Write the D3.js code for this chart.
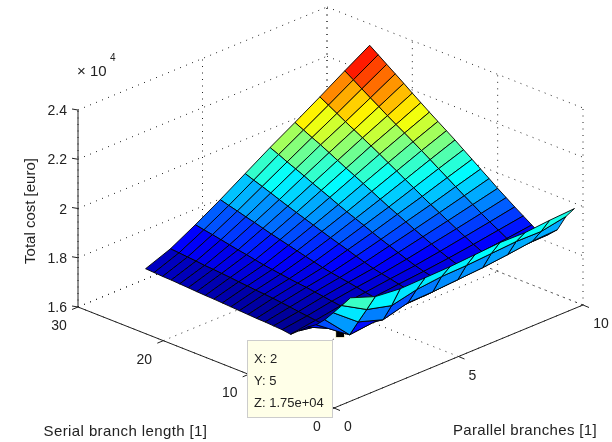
<!DOCTYPE html>
<html>
<head>
<meta charset="utf-8">
<script src="https://d3js.org/d3.v7.min.js"></script>
<style>
html, body { margin: 0; padding: 0; background: #fff; }
svg { display: block; filter: blur(0.3px); }
text { font-family: "Liberation Sans", sans-serif; font-size: 14px; fill: #222; }
</style>
</head>
<body>
<svg id="chart" width="612" height="442"></svg>
<script>
//Data
var parallelBranches = [1, 2, 3, 4, 5, 6, 7, 8, 9, 10];
var serialLength = [1, 2, 3, 4, 5, 6, 7, 8, 9, 10, 11, 12, 13, 14, 15, 16, 17, 18, 19, 20, 21, 22, 23, 24, 25];

//total cost [euro x 10^4], one list per parallel branch count, serial length 1..25
var costP1 = [1.992, 1.947, 1.904, 1.862, 1.828, 1.805, 1.776, 1.748, 1.753, 1.755, 1.757, 1.758, 1.760, 1.762, 1.764, 1.766, 1.768, 1.769, 1.771, 1.773, 1.775, 1.777, 1.778, 1.780, 1.782];
var costP2 = [1.955, 1.889, 1.825, 1.759, 1.755, 1.756, 1.759, 1.763, 1.767, 1.771, 1.776, 1.780, 1.784, 1.787, 1.790, 1.793, 1.796, 1.800, 1.803, 1.806, 1.808, 1.812, 1.815, 1.818, 1.821];
var costP3 = [1.945, 1.863, 1.792, 1.770, 1.761, 1.767, 1.773, 1.780, 1.785, 1.790, 1.795, 1.800, 1.804, 1.808, 1.813, 1.818, 1.823, 1.830, 1.837, 1.843, 1.850, 1.857, 1.864, 1.870, 1.877];
var costP4 = [1.948, 1.886, 1.819, 1.788, 1.771, 1.780, 1.787, 1.793, 1.800, 1.806, 1.812, 1.818, 1.825, 1.834, 1.843, 1.852, 1.861, 1.870, 1.879, 1.889, 1.899, 1.908, 1.918, 1.927, 1.937];
var costP5 = [1.951, 1.897, 1.822, 1.792, 1.782, 1.790, 1.798, 1.806, 1.813, 1.821, 1.832, 1.843, 1.855, 1.866, 1.877, 1.889, 1.901, 1.913, 1.925, 1.937, 1.950, 1.963, 1.976, 1.988, 2.001];
var costP6 = [1.958, 1.900, 1.829, 1.800, 1.792, 1.800, 1.808, 1.818, 1.830, 1.843, 1.857, 1.870, 1.884, 1.899, 1.913, 1.927, 1.942, 1.958, 1.973, 1.988, 2.004, 2.019, 2.034, 2.050, 2.065];
var costP7 = [1.965, 1.907, 1.836, 1.810, 1.798, 1.808, 1.820, 1.834, 1.850, 1.866, 1.882, 1.899, 1.916, 1.932, 1.950, 1.968, 1.986, 2.004, 2.021, 2.039, 2.057, 2.075, 2.091, 2.108, 2.125];
var costP8 = [1.963, 1.914, 1.847, 1.820, 1.806, 1.818, 1.834, 1.852, 1.870, 1.889, 1.908, 1.927, 1.947, 1.968, 1.988, 2.009, 2.029, 2.050, 2.070, 2.089, 2.108, 2.127, 2.147, 2.167, 2.187];
var costP9 = [1.972, 1.913, 1.860, 1.830, 1.813, 1.830, 1.850, 1.870, 1.891, 1.913, 1.935, 1.958, 1.981, 2.004, 2.027, 2.050, 2.072, 2.094, 2.115, 2.137, 2.160, 2.182, 2.205, 2.228, 2.251];
var costP10 = [1.978, 1.932, 1.865, 1.832, 1.821, 1.843, 1.866, 1.889, 1.913, 1.937, 1.963, 1.988, 2.014, 2.039, 2.065, 2.089, 2.113, 2.137, 2.162, 2.187, 2.213, 2.238, 2.263, 2.288, 2.313];
var totalCost = [costP1, costP2, costP3, costP4, costP5, costP6, costP7, costP8, costP9, costP10];

var xTicks = [0, 5, 10];
var yTicks = [0, 10, 20, 30];
var zTicks = [1.6, 1.8, 2, 2.2, 2.4];
var tipPoint = { x: 2, y: 5, z: 1.75 };
var tipLines = ["X: 2", "Y: 5", "Z: 1.75e+04"];

var svg = d3.select("#chart");

//oblique 3d axes, each data axis adds its own screen offset
var xToScreenX = d3.scaleLinear().domain([0, 10]).range([0, 249]),
    xToScreenY = d3.scaleLinear().domain([0, 10]).range([0, -103]),
    yToScreenX = d3.scaleLinear().domain([0, 30]).range([0, -256]),
    yToScreenY = d3.scaleLinear().domain([0, 30]).range([0, -101]),
    zToScreenY = d3.scaleLinear().domain([1.6, 2.4]).range([0, -197]);
var originX = 334, originY = 408;

function project(x, y, z) {
    return [
        originX + xToScreenX(x) + yToScreenX(y),
        originY + xToScreenY(x) + yToScreenY(y) + zToScreenY(z)
    ];
}

//jet colormap
var jet = d3.scaleLinear()
    .domain([0, 0.125, 0.375, 0.625, 0.875, 1])
    .range(["#000090", "#0000ff", "#00ffff", "#ffff00", "#ff0000", "#800000"]);
var allCosts = d3.merge(totalCost);
var colorNorm = d3.scaleLinear().domain(d3.extent(allCosts)).range([0, 1]);

var line3d = d3.line();

function addSegment(g, a, b) {
    g.append("path").attr("d", line3d([a, b]));
}

//grid on floor and two back walls
var grid = svg.append("g")
    .attr("fill", "none")
    .attr("stroke", "#222")
    .attr("stroke-width", 1)
    .attr("stroke-dasharray", "1 5.5");

xTicks.forEach(function (x) {
    addSegment(grid, project(x, 0, 1.6), project(x, 30, 1.6));
    addSegment(grid, project(x, 30, 1.6), project(x, 30, 2.4));
});
yTicks.forEach(function (y) {
    addSegment(grid, project(0, y, 1.6), project(10, y, 1.6));
    addSegment(grid, project(10, y, 1.6), project(10, y, 2.4));
});
zTicks.forEach(function (z) {
    addSegment(grid, project(0, 30, z), project(10, 30, z));
    addSegment(grid, project(10, 30, z), project(10, 0, z));
});

//solid axes and ticks
var axes = svg.append("g")
    .attr("fill", "none")
    .attr("stroke", "#222")
    .attr("stroke-width", 1);

addSegment(axes, project(0, 30, 1.6), project(0, 30, 2.4));
addSegment(axes, project(0, 30, 1.6), project(0, 0, 1.6));
addSegment(axes, project(0, 0, 1.6), project(10, 0, 1.6));

function addTick(p, dx, dy) {
    addSegment(axes, p, [p[0] + dx, p[1] + dy]);
}
zTicks.forEach(function (z) { addTick(project(0, 30, z), -6, -1); });
yTicks.forEach(function (y) { addTick(project(0, y, 1.6), -6, 2.5); });
xTicks.forEach(function (x) { addTick(project(x, 0, 1.6), 6, 2.5); });

//tick labels
function addLabel(px, py, str, anchor) {
    return svg.append("text")
        .attr("x", px)
        .attr("y", py)
        .attr("dy", "0.36em")
        .attr("text-anchor", anchor || "middle")
        .text(str);
}
zTicks.forEach(function (z) {
    var p = project(0, 30, z);
    addLabel(p[0] - 11, p[1], d3.format("~g")(z), "end");
});
yTicks.forEach(function (y) {
    var p = project(0, y, 1.6);
    addLabel(p[0] - (y == 0 ? 17 : 19), p[1] + 18, y);
});
xTicks.forEach(function (x) {
    var p = project(x, 0, 1.6);
    addLabel(p[0] + (x == 10 ? 18 : 14), p[1] + 18, x);
});

//axis titles and exponent
addLabel(125.5, 431, "Serial branch length [1]")
    .style("font-size", "15px").style("letter-spacing", "0.4px");
addLabel(525, 430, "Parallel branches [1]")
    .style("font-size", "15px").style("letter-spacing", "0.35px");
svg.append("text")
    .attr("transform", "translate(30,211) rotate(-90)")
    .attr("dy", "0.36em")
    .attr("text-anchor", "middle")
    .style("font-size", "15px")
    .text("Total cost [euro]");
addLabel(77, 71, "\u00d7 10", "start").style("font-size", "15px");
addLabel(110, 57, "4", "start").style("font-size", "10px");

//data tip marker goes under the surface, the surface clips its top
var markerP = project(tipPoint.x, tipPoint.y, tipPoint.z);
svg.append("rect")
    .attr("x", markerP[0] - 5.5)
    .attr("y", markerP[1] - 4)
    .attr("width", 9)
    .attr("height", 8)
    .attr("fill", "#000")
    .attr("stroke", "#fdfbd8")
    .attr("stroke-width", 1);

//surface cells, back to front
var cells = [];
d3.range(parallelBranches.length - 2, -1, -1).forEach(function (i) {
    d3.range(serialLength.length - 2, -1, -1).forEach(function (j) {
        cells.push({ i: i, j: j });
    });
});

function cellCorner(i, j) {
    return project(parallelBranches[i], serialLength[j], totalCost[i][j]);
}

svg.append("g")
    .selectAll("path")
    .data(cells)
    .enter().append("path")
    .attr("d", function (c) {
        return d3.line()([
            cellCorner(c.i, c.j),
            cellCorner(c.i + 1, c.j),
            cellCorner(c.i + 1, c.j + 1),
            cellCorner(c.i, c.j + 1)
        ]) + "Z";
    })
    .attr("fill", function (c) { return jet(colorNorm(totalCost[c.i][c.j])); })
    .attr("stroke", "#000")
    .attr("stroke-width", 0.9)
    .attr("stroke-linejoin", "round");

//data tip box
svg.append("rect")
    .attr("x", 247.5)
    .attr("y", 340.5)
    .attr("width", 85)
    .attr("height", 77)
    .attr("fill", "#ffffe8")
    .attr("stroke", "#ccc")
    .attr("stroke-width", 1);

tipLines.forEach(function (str, n) {
    addLabel(254, 358 + n * 22, str, "start").style("font-size", "13px");
});
</script>
</body>
</html>
